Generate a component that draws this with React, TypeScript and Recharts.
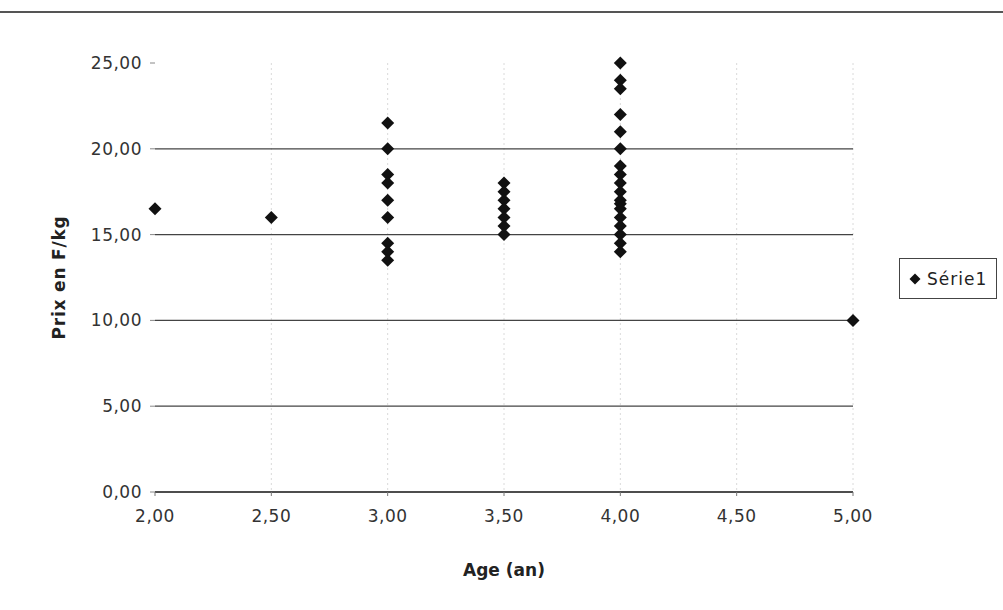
import React from 'react';
import {
  ScatterChart,
  Scatter,
  XAxis,
  YAxis,
  CartesianGrid,
} from 'recharts';

const ages: number[] = [
  2, 2.5,
  3, 3, 3, 3, 3, 3, 3, 3, 3,
  3.5, 3.5, 3.5, 3.5, 3.5, 3.5, 3.5,
  4, 4, 4, 4, 4, 4, 4, 4, 4, 4, 4, 4, 4, 4, 4, 4, 4, 4,
  5,
];

const prices: number[] = [
  16.5, 16,
  21.5, 20, 18.5, 18, 17, 16, 14.5, 14, 13.5,
  18, 17.5, 17, 16.5, 16, 15.5, 15,
  25, 24, 23.5, 22, 21, 20, 19, 18.5, 18, 17.5, 17, 16.8, 16.5, 16, 15.5, 15, 14.5, 14,
  10,
];

const xTicks = [2, 2.5, 3, 3.5, 4, 4.5, 5];
const yTicks = [0, 5, 10, 15, 20, 25];
const yGridLines = [0, 5, 10, 15, 20];
const xGridLines = [2.5, 3, 3.5, 4, 4.5, 5];
const seriesName = 'Série1';

const points = ages.map((age, i) => ({ age, price: prices[i] }));

const fmt = (v: number) => v.toFixed(2).replace('.', ',');

const FONT = '"DejaVu Sans", Verdana, sans-serif';

function Diamond(props: any) {
  const { cx, cy } = props;
  const r = 6.5;
  return (
    <polygon
      points={`${cx},${cy - r} ${cx + r},${cy} ${cx},${cy + r} ${cx - r},${cy}`}
      fill="#111"
    />
  );
}

export default function App() {
  return (
    <div
      style={{
        position: 'fixed',
        top: 0,
        left: 0,
        width: 1003,
        height: 610,
        background: '#fff',
      }}
    >
      <div
        style={{
          position: 'absolute',
          top: 11,
          left: 0,
          width: 1003,
          height: 2,
          background: '#555',
        }}
      />
      <ScatterChart
        width={1003}
        height={610}
        margin={{ top: 63, right: 150, bottom: 28, left: 75 }}
      >
        <CartesianGrid
          horizontal={false}
          verticalValues={xGridLines}
          stroke="#dadada"
          strokeDasharray="2 3"
        />
        <CartesianGrid
          vertical={false}
          horizontalValues={yGridLines}
          stroke="#444"
          strokeWidth={1.2}
        />
        <XAxis
          type="number"
          dataKey="age"
          domain={[2, 5]}
          ticks={xTicks}
          tickFormatter={fmt}
          height={90}
          axisLine={{ stroke: '#333', strokeWidth: 1.5 }}
          tickLine={{ stroke: '#777' }}
          tickSize={4}
          tickMargin={14}
          tick={{ fill: '#333', fontSize: 17, fontFamily: FONT, letterSpacing: 0.5 }}
          label={{
            value: 'Age (an)',
            position: 'insideBottom',
            offset: 6,
            style: { fill: '#222', fontSize: 17, fontWeight: 700, fontFamily: FONT },
          }}
        />
        <YAxis
          type="number"
          dataKey="price"
          domain={[0, 25]}
          ticks={yTicks}
          tickFormatter={fmt}
          width={80}
          axisLine={false}
          tickLine={{ stroke: '#888' }}
          tickSize={5}
          tickMargin={8}
          tick={{ fill: '#333', fontSize: 17, fontFamily: FONT, letterSpacing: 0.5 }}
          label={{
            value: 'Prix en F/kg',
            angle: -90,
            position: 'insideLeft',
            offset: -16,
            style: {
              fill: '#222',
              fontSize: 17,
              fontWeight: 700,
              fontFamily: FONT,
              textAnchor: 'middle',
              letterSpacing: 0.8,
            },
          }}
        />
        <Scatter
          name={seriesName}
          data={points}
          shape={<Diamond />}
          isAnimationActive={false}
        />
      </ScatterChart>
      <div
        style={{
          position: 'absolute',
          left: 899,
          top: 258,
          width: 98,
          height: 41,
          boxSizing: 'border-box',
          border: '1px solid #444',
          display: 'flex',
          alignItems: 'center',
          gap: 6,
          paddingLeft: 9,
          background: '#fff',
          fontFamily: FONT,
          fontSize: 17,
          color: '#222',
        }}
      >
        <svg width={12} height={12}>
          <polygon points="6,0.5 11.5,6 6,11.5 0.5,6" fill="#111" />
        </svg>
        <span style={{ letterSpacing: 1 }}>{seriesName}</span>
      </div>
    </div>
  );
}
